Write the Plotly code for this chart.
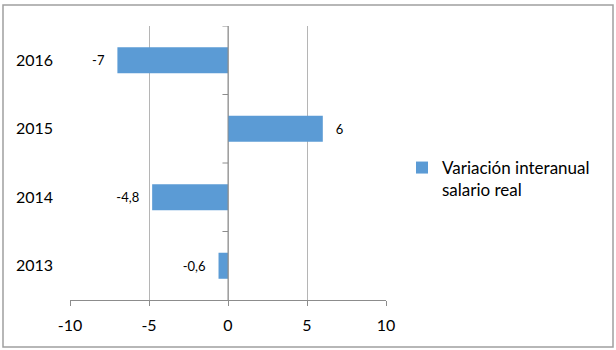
import plotly.graph_objects as go

years = ["2013", "2014", "2015", "2016"]
values = [-0.6, -4.8, 6, -7]
series_name = "Variación interanual<br>salario real"
x_ticks = [-10, -5, 0, 5, 10]

NB = "\u00a0"
labels = []
for v in values:
    s = ("%g" % v).replace(".", ",")
    labels.append(s + NB * 3 if v < 0 else NB * 3 + s)

color = "#5b9bd5"
W, H = 616, 350
L, R, T, B = 70, 230, 26, 50
pw = W - L - R
ph = H - T - B

fig = go.Figure()
fig.add_trace(go.Bar(
    y=years, x=values, orientation="h", name=series_name,
    marker=dict(color=color, line=dict(width=0)),
    width=0.38,
    text=labels, textposition="outside", cliponaxis=False,
    textfont=dict(size=13, color="#000000", family="Lato"),
    showlegend=True,
))

shapes = []
# small category ticks on the vertical zero axis
for b in [0.5, 1.5, 2.5, 3.5]:
    shapes.append(dict(type="line", xref="x", yref="y", x0=-0.35, x1=0, y0=b, y1=b,
                       line=dict(color="#8c8c8c", width=1)))
# zero axis
shapes.append(dict(type="line", xref="x", yref="paper", x0=0, x1=0, y0=0, y1=1,
                   line=dict(color="#8c8c8c", width=1), layer="above"))
# outer border
shapes.append(dict(type="rect", xref="paper", yref="paper",
                   x0=(3 - L) / pw, x1=(613 - L) / pw,
                   y0=(H - B - 347) / ph, y1=(H - B - 5) / ph,
                   line=dict(color="#a0a0a0", width=1.5), fillcolor="rgba(0,0,0,0)", layer="below"))

fig.update_layout(
    width=W, height=H,
    margin=dict(l=L, r=R, t=T, b=B, autoexpand=False),
    paper_bgcolor="white", plot_bgcolor="white",
    font=dict(family="Lato", size=16, color="#000000"),
    bargap=0.62,
    shapes=shapes,
    legend=dict(x=(402 - L) / pw, y=(H - B - 150) / ph, xanchor="left", yanchor="top",
                font=dict(size=17, family="Lato"), valign="top",
                itemwidth=30, tracegroupgap=0),
    xaxis=dict(range=[-10, 10], tickvals=x_ticks, ticktext=[str(t) for t in x_ticks],
               showgrid=True, gridcolor="#b5b5b5", gridwidth=1,
               zeroline=False, showline=True, linecolor="#8c8c8c", linewidth=1,
               ticks="outside", ticklen=5, tickcolor="#8c8c8c",
               tickfont=dict(size=16), ticklabelstandoff=6, fixedrange=True),
    yaxis=dict(type="category", categoryorder="array", categoryarray=years,
               range=[-0.5, 3.5], showgrid=False, zeroline=False, showline=False,
               ticks="", tickfont=dict(size=16), ticklabelstandoff=16, fixedrange=True),
)

fig.write_html("out.html", config={"displayModeBar": False},
               post_script="document.body.style.margin='0';document.body.style.overflow='hidden';")
